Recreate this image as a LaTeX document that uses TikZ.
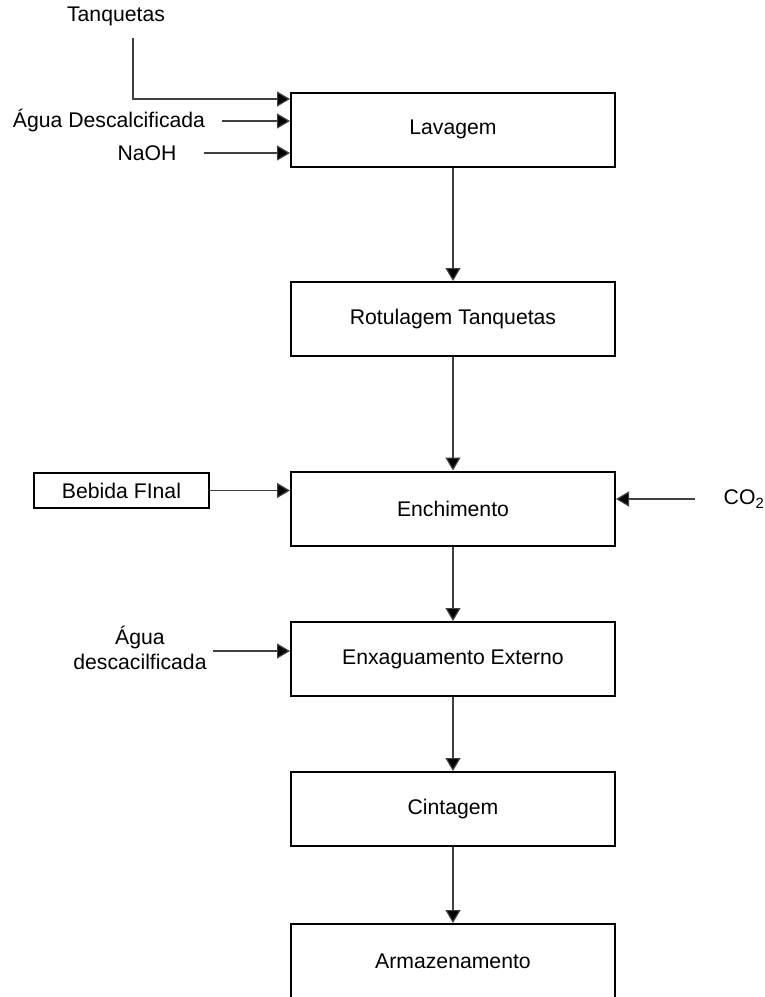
\documentclass[tikz,border=0pt]{standalone}
\usepackage{fontspec}
\setmainfont{Liberation Sans}
\usetikzlibrary{arrows.meta}
\begin{document}
\begin{tikzpicture}[x=1pt,y=-1pt,
  every node/.style={font=\fontsize{21.2}{25}\selectfont},
  stepbox/.style={draw=black,line width=2pt,minimum width=324pt,minimum height=74pt,inner sep=0pt},
  srcbox/.style={draw=black,line width=2pt,minimum width=175pt,minimum height=35pt,inner sep=0pt},
  flow/.style={draw=black!75,line width=1.2pt,-{Triangle[length=13pt,width=15pt,fill=black]}},
  lbl/.style={inner sep=0pt,align=center}]
\clip (0,0) rectangle (764,997);
\fill[white] (0,0) rectangle (764,997);

% process steps
\node[stepbox] (lav) at (453,129.5) {Lavagem};
\node[stepbox] (rot) at (453,319) {Rotulagem Tanquetas};
\node[stepbox] (enc) at (453,508.5) {Enchimento};
\node[stepbox] (enx) at (453,659) {Enxaguamento Externo};
\node[stepbox] (cin) at (453,809) {Cintagem};
\node[stepbox] (arm) at (453,961) {Armazenamento};

% inputs
\node[srcbox] (beb) at (121.5,490.5) {Bebida FInal};
\node[lbl] (tanq) at (116,16) {Tanquetas};
\node[lbl] (agua) at (109,121) {Água Descalcificada};
\node[lbl] (naoh) at (147,153) {NaOH};
\node[lbl] (co2) at (744,499) {CO\textsubscript{2}};
\node[lbl] (agua2) at (140,648) {Água\\descacilficada};

\coordinate (tq0) at (133,38);
\coordinate (tq1) at (133,99);
\coordinate (ag0) at (222,121);
\coordinate (na0) at (204,153);
\coordinate (co0) at (695,499);
\coordinate (ax0) at (213,651);

% main line
\draw[flow] (lav) -- (rot);
\draw[flow] (rot) -- (enc);
\draw[flow] (enc) -- (enx);
\draw[flow] (enx) -- (cin);
\draw[flow] (cin) -- (arm);

% feeds
\draw[flow] (tq0) -- (tq1) -- (tq1 -| lav.west);
\draw[flow] (ag0) -- (ag0 -| lav.west);
\draw[flow] (na0) -- (na0 -| lav.west);
\draw[flow] (beb.east) -- (beb.east -| enc.west);
\draw[flow] (co0) -- (co0 -| enc.east);
\draw[flow] (ax0) -- (ax0 -| enx.west);
\end{tikzpicture}
\end{document}
